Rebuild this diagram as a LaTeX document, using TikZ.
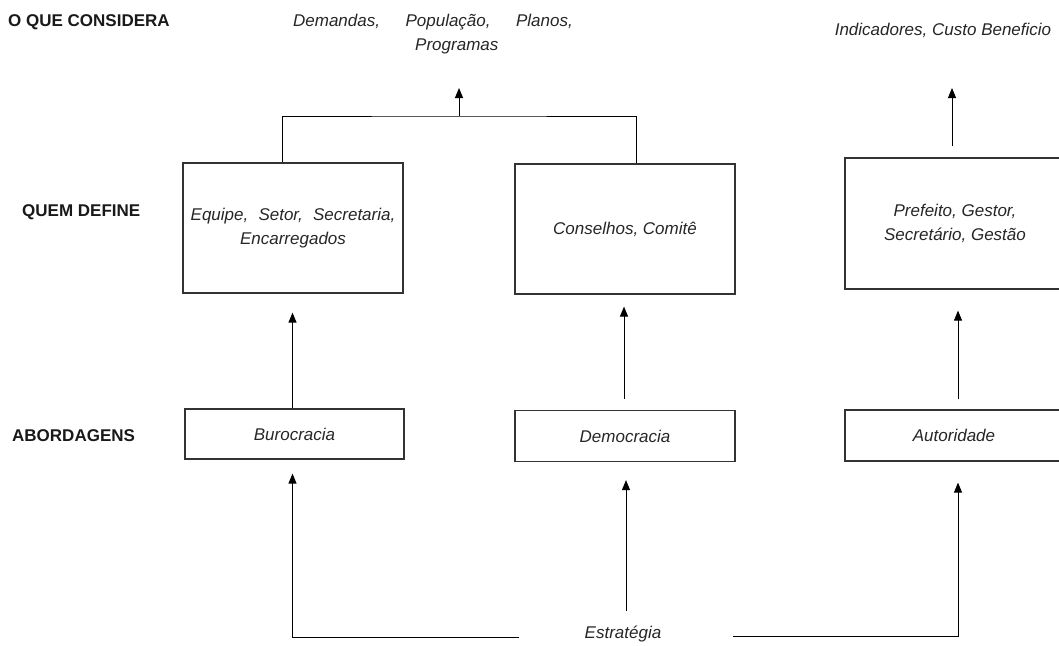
\documentclass[tikz,border=0pt]{standalone}
\usepackage{fontspec}
\setmainfont{Liberation Sans}
\usetikzlibrary{arrows.meta}
\begin{document}
\begin{tikzpicture}[x=1pt,y=-1pt,
  font=\fontsize{17}{24}\selectfont\itshape,
  box/.style={draw=black!80, line width=1.2pt, align=center, inner sep=0pt, text=black!85},
  lbl/.style={font=\fontsize{17}{24}\selectfont\bfseries, anchor=west, text=black!90, inner sep=0pt},
  txt/.style={align=center, text=black!85, inner sep=0pt},
  arr/.style={line width=1pt, -{Triangle[width=8pt,length=10pt]}},
  ln/.style={line width=1pt}]
\useasboundingbox (0,0) rectangle (1059,645);
% row labels
\node[lbl] (l1) at (8,22) {O QUE CONSIDERA};
\node[lbl] (l2) at (22,212) {QUEM DEFINE};
\node[lbl] (l3) at (12,436) {ABORDAGENS};
% top texts
\node[txt] (dem) at (433,34) {Demandas,\hspace{1.5em}População,\hspace{1.5em}Planos,\\\hspace*{2.8em}Programas};
\node[txt] (ind) at (943,30) {Indicadores, Custo Beneficio};
% big boxes
\node[box, minimum width=220pt, minimum height=130pt] (b1) at (293,228) {Equipe,\hspace{0.6em}Setor,\hspace{0.6em}Secretaria,\\Encarregados};
\node[box, minimum width=220pt, minimum height=130pt] (b2) at (625,229) {Conselhos, Comitê};
\node[box, minimum width=220pt, minimum height=131pt] (b3) at (955,223.5) {Prefeito, Gestor,\\Secretário, Gestão};
% small boxes
\node[box, minimum width=219pt, minimum height=50pt] (s1) at (294.5,434) {Burocracia};
\node[box, minimum width=220pt, minimum height=51pt] (s2) at (625,436) {Democracia};
\node[box, minimum width=218pt, minimum height=51pt] (s3) at (954,435.5) {Autoridade};
% bottom text
\node[txt] (est) at (623,634) {Estratégia};
% anchor columns for vertical connectors
\coordinate (c1) at (292.5,0);
\coordinate (c2) at (624,0);
\coordinate (c3) at (958,0);
\coordinate (c4) at (626,0);
% top connectors
\coordinate (j) at (459,116);
\coordinate (t1) at (459,88);
\coordinate (t2) at (952,88);
\draw[ln] ([xshift=-11pt]b1.north) |- (j) -| ([xshift=11pt]b2.north);
\draw[arr] (j) -- (t1);
\draw[arr] ([yshift=11pt]b3.north -| t2) -- (t2);
% middle connectors
\draw[arr] (s1.north -| c1) -- ([yshift=-19pt]b1.south -| c1);
\draw[arr] ([yshift=11pt]s2.north -| c2) -- ([yshift=-12pt]b2.south -| c2);
\draw[arr] ([yshift=10pt]s3.north -| c3) -- ([yshift=-21pt]b3.south -| c3);
% bottom connectors
\draw[arr] ([xshift=-66pt,yshift=-3pt]est.west) -| ([yshift=-14pt]s1.south -| c1);
\draw[arr] ([yshift=23pt]est.center -| c4) -- ([yshift=-18pt]s2.south -| c4);
\draw[arr] ([xshift=72pt,yshift=-2pt]est.east) -| ([yshift=-21pt]s3.south -| c3);
\end{tikzpicture}
\end{document}
